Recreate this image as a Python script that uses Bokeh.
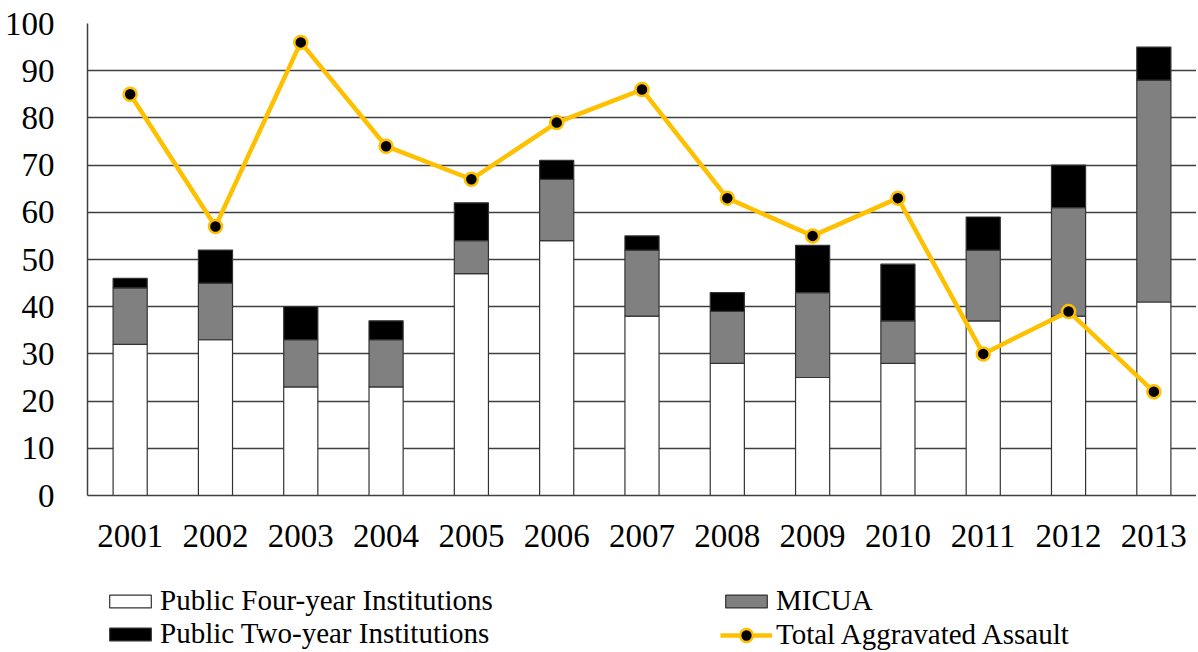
from bokeh.plotting import figure
from bokeh.layouts import column
from bokeh.models import Legend, LegendItem, FactorRange, SingleIntervalTicker, ColumnDataSource
from bokeh.embed import file_html
from bokeh.resources import INLINE

years = ["2001", "2002", "2003", "2004", "2005", "2006", "2007",
         "2008", "2009", "2010", "2011", "2012", "2013"]
public_four_year = [32, 33, 23, 23, 47, 54, 38, 28, 25, 28, 37, 38, 41]
micua = [12, 12, 10, 10, 7, 13, 14, 11, 18, 9, 15, 23, 47]
public_two_year = [2, 7, 7, 4, 8, 4, 3, 4, 10, 12, 7, 9, 7]
total_aggravated_assault = [85, 57, 96, 74, 67, 79, 86, 63, 55, 63, 30, 39, 22]

series_names = ["Public Four-year Institutions", "MICUA", "Public Two-year Institutions"]
line_name = "Total Aggravated Assault"
keys = ["four", "micua", "two"]
colors = ["#FFFFFF", "#808080", "#000000"]

src = ColumnDataSource(dict(year=years, four=public_four_year, micua=micua,
                            two=public_two_year, total=total_aggravated_assault))

FONT = "Liberation Serif"
GRID = "#404040"
BAR_LINE = "#333333"
GOLD = "#FFC000"
W = 1196

p = figure(width=W, height=565, x_range=FactorRange(*years), y_range=(0, 100),
           output_backend="svg", toolbar_location=None,
           min_border_left=87, min_border_right=0, min_border_top=23, min_border_bottom=70)
p.outline_line_color = None

p.vbar_stack(keys, x="year", width=0.4, source=src, fill_color=colors,
             line_color=BAR_LINE, line_width=1.2)
p.line(x="year", y="total", source=src, line_color=GOLD, line_width=4.5)
p.scatter(x="year", y="total", source=src, size=13, fill_color="black",
          line_color=GOLD, line_width=2.5)

p.xgrid.grid_line_color = None
p.ygrid.grid_line_color = GRID
p.ygrid.grid_line_width = 1.5
p.yaxis.ticker = SingleIntervalTicker(interval=10)
for ax in (p.xaxis[0], p.yaxis[0]):
    ax.axis_line_color = GRID
    ax.axis_line_width = 1.5
    ax.major_tick_in = 0
    ax.major_tick_out = 0
    ax.minor_tick_in = 0
    ax.minor_tick_out = 0
    ax.major_label_text_font = FONT
    ax.major_label_text_font_size = "33px"
    ax.major_label_text_color = "black"
p.yaxis.major_label_standoff = 33
p.xaxis.major_label_standoff = 29

# legend strip: same series drawn again with a view range that keeps them out of sight,
# so that only the legends of this strip are seen
q = figure(width=W, height=85, x_range=FactorRange(*years), y_range=(1000, 1001),
           output_backend="svg", toolbar_location=None,
           x_axis_location=None, y_axis_location=None,
           min_border_left=0, min_border_right=0, min_border_top=0, min_border_bottom=0)
q.outline_line_color = None
q.grid.visible = False
qb = q.vbar_stack(keys, x="year", width=0.4, source=src, fill_color=colors,
                  line_color=BAR_LINE, line_width=1.2)
q_line = q.line(x="year", y="total", source=src, line_color=GOLD, line_width=4.5)
q_pts = q.scatter(x="year", y="total", source=src, size=13, fill_color="black",
                  line_color=GOLD, line_width=2.5)


def style(lg, gh):
    lg.glyph_width = 52
    lg.glyph_height = gh
    lg.label_text_font = FONT
    lg.label_text_font_size = "29px"
    lg.label_text_color = "black"
    lg.label_standoff = 4
    lg.label_width = 560
    lg.label_height = 30
    lg.spacing = 0
    lg.padding = 0
    lg.margin = 0
    lg.border_line_color = None
    lg.background_fill_alpha = 0


legend_bars = Legend(items=[
    LegendItem(label=series_names[0], renderers=[qb[0]]),
    LegendItem(label=series_names[2], renderers=[qb[2]]),
    LegendItem(label=series_names[1], renderers=[qb[1]]),
], orientation="vertical", ncols=2)
style(legend_bars, 16)
legend_bars.location = (17, 0)

legend_line = Legend(items=[LegendItem(label=line_name, renderers=[q_line, q_pts])])
style(legend_line, 32)
legend_line.location = (633, -1)

q.add_layout(legend_bars, "center")
q.add_layout(legend_line, "center")

layout = column(p, q, spacing=0)
open("out.html", "w").write(file_html(layout, INLINE))
